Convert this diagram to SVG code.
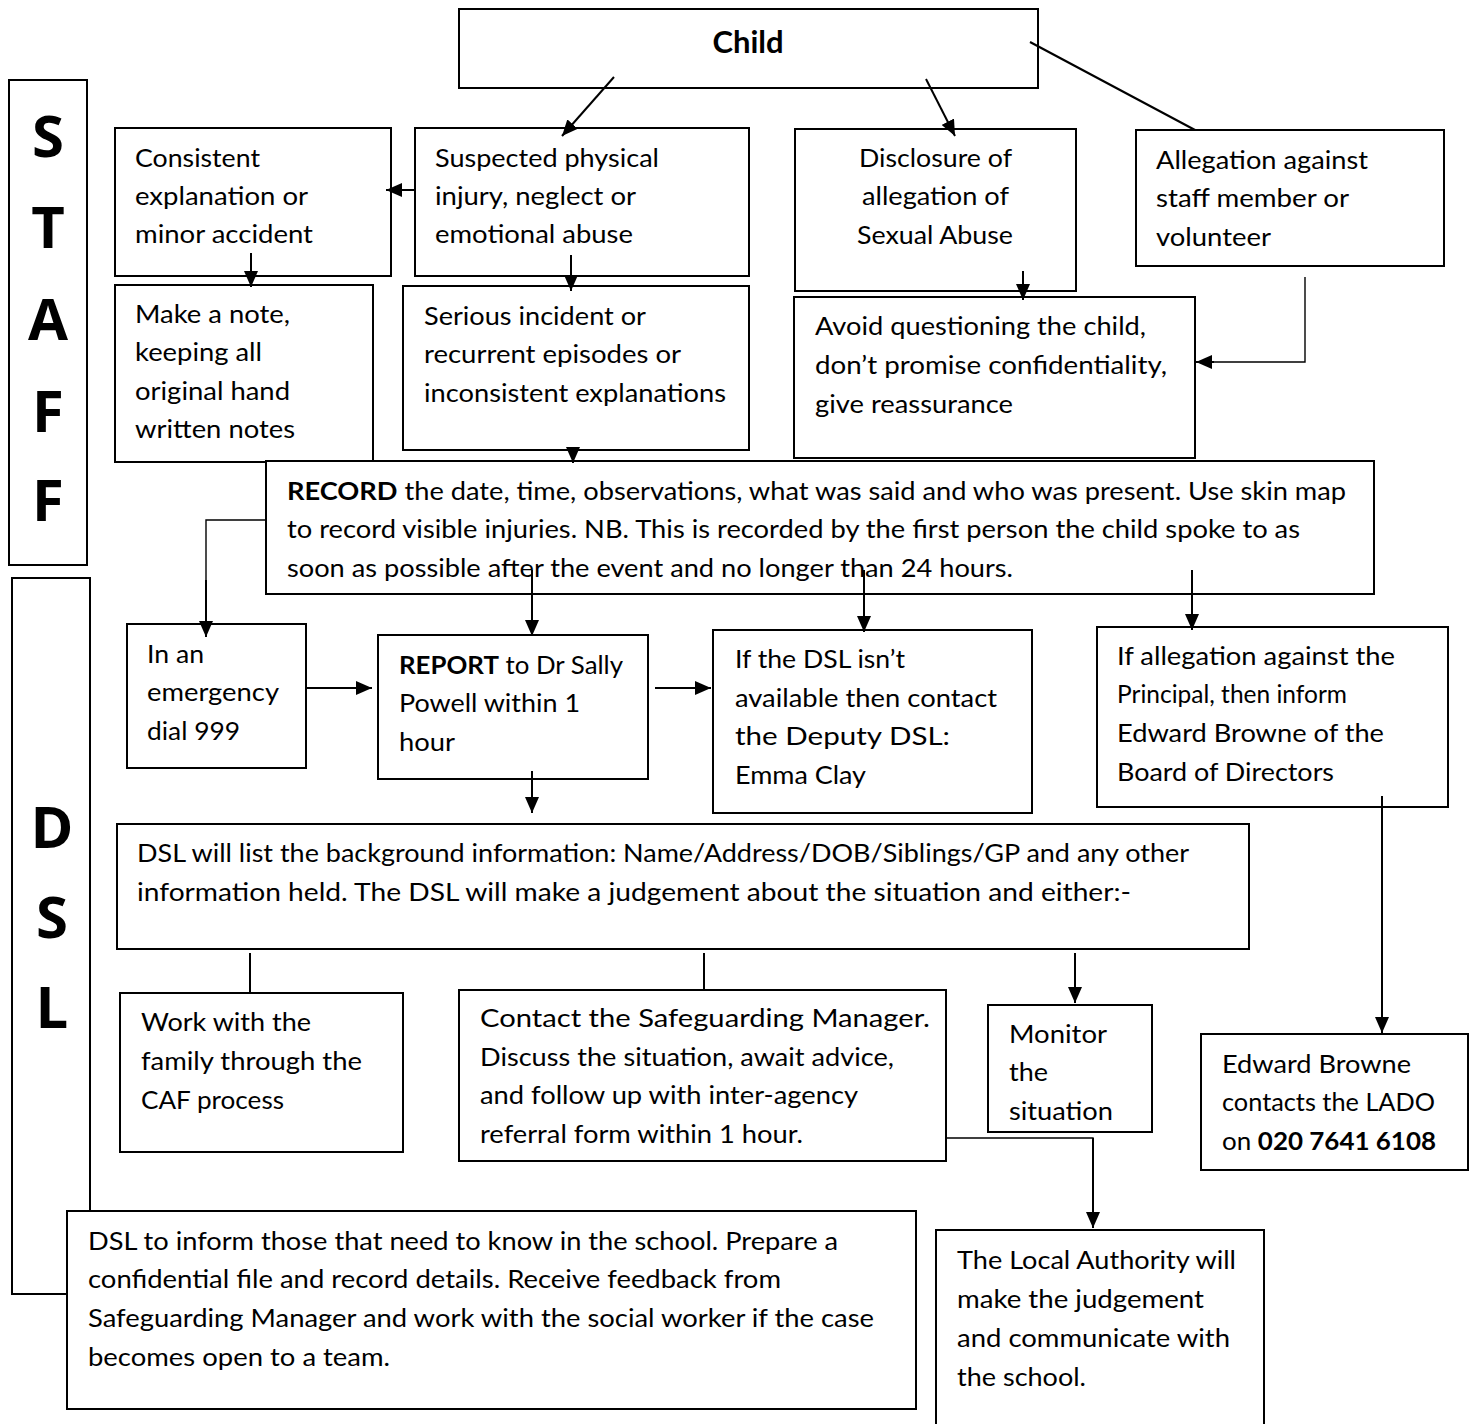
<svg xmlns="http://www.w3.org/2000/svg" width="1477" height="1424" viewBox="0 0 1477 1424">
<style>
.box{fill:#fff;stroke:#000;stroke-width:2}
.t{font-family:Lato,"Open Sans","Liberation Sans",sans-serif;font-size:25px;fill:#000}
.b{font-weight:bold}
.big{font-family:"Open Sans","Liberation Sans",sans-serif;font-weight:bold;font-size:58px;text-anchor:middle}
.c{fill:none;stroke:#000;stroke-width:2}
.thin{fill:none;stroke:#000;stroke-width:1.4}
</style>
<defs>
<marker id="ah" markerUnits="userSpaceOnUse" markerWidth="16" markerHeight="14" refX="16" refY="7" orient="auto">
<path d="M0,0 L16,7 L0,14 z" fill="#000"/>
</marker>
</defs>
<rect width="1477" height="1424" fill="#fff"/>

<g id="staff">
<rect class="box" x="9" y="80" width="78" height="485"/>
<text class="big" x="48" y="157">S</text>
<text class="big" x="48" y="248">T</text>
<text class="big" x="48" y="340">A</text>
<text class="big" x="48" y="432">F</text>
<text class="big" x="48" y="521">F</text>
</g>
<g id="dsl">
<rect class="box" x="12" y="578" width="78" height="716"/>
<text class="big" x="52" y="848">D</text>
<text class="big" x="52" y="938">S</text>
<text class="big" x="52" y="1028">L</text>
</g>

<g id="child">
<rect class="box" x="459" y="9" width="579" height="79"/>
<text class="t b" x="748" y="53" text-anchor="middle" style="font-size:31px">Child</text>
</g>
<g id="consistent">
<rect class="box" x="115" y="128" width="276" height="148"/>
<text class="t" x="135" y="167" textLength="125" lengthAdjust="spacingAndGlyphs">Consistent</text>
<text class="t" x="135" y="205" textLength="173" lengthAdjust="spacingAndGlyphs">explanation or</text>
<text class="t" x="135" y="243" textLength="178" lengthAdjust="spacingAndGlyphs">minor accident</text>
</g>
<g id="suspected">
<rect class="box" x="415" y="128" width="334" height="148"/>
<text class="t" x="435" y="167" textLength="224" lengthAdjust="spacingAndGlyphs">Suspected physical</text>
<text class="t" x="435" y="205" textLength="201" lengthAdjust="spacingAndGlyphs">injury, neglect or</text>
<text class="t" x="435" y="243" textLength="198" lengthAdjust="spacingAndGlyphs">emotional abuse</text>
</g>
<g id="disclosure">
<rect class="box" x="795" y="129" width="281" height="162"/>
<text class="t" x="859" y="167" textLength="153" lengthAdjust="spacingAndGlyphs">Disclosure of</text>
<text class="t" x="862" y="205" textLength="147" lengthAdjust="spacingAndGlyphs">allegation of</text>
<text class="t" x="857" y="244" textLength="156" lengthAdjust="spacingAndGlyphs">Sexual Abuse</text>
</g>
<g id="allegation">
<rect class="box" x="1136" y="130" width="308" height="136"/>
<text class="t" x="1156" y="169" textLength="212" lengthAdjust="spacingAndGlyphs">Allegation against</text>
<text class="t" x="1156" y="207" textLength="193" lengthAdjust="spacingAndGlyphs">staff member or</text>
<text class="t" x="1156" y="246" textLength="115" lengthAdjust="spacingAndGlyphs">volunteer</text>
</g>
<g id="note">
<rect class="box" x="115" y="285" width="258" height="177"/>
<text class="t" x="135" y="323" textLength="155" lengthAdjust="spacingAndGlyphs">Make a note,</text>
<text class="t" x="135" y="361" textLength="127" lengthAdjust="spacingAndGlyphs">keeping all</text>
<text class="t" x="135" y="400" textLength="155" lengthAdjust="spacingAndGlyphs">original hand</text>
<text class="t" x="135" y="438" textLength="160" lengthAdjust="spacingAndGlyphs">written notes</text>
</g>
<g id="serious">
<rect class="box" x="403" y="286" width="346" height="164"/>
<text class="t" x="424" y="325" textLength="222" lengthAdjust="spacingAndGlyphs">Serious incident or</text>
<text class="t" x="424" y="363" textLength="257" lengthAdjust="spacingAndGlyphs">recurrent episodes or</text>
<text class="t" x="424" y="402" textLength="302" lengthAdjust="spacingAndGlyphs">inconsistent explanations</text>
</g>
<g id="avoid">
<rect class="box" x="794" y="297" width="401" height="161"/>
<text class="t" x="815" y="335" textLength="331" lengthAdjust="spacingAndGlyphs">Avoid questioning the child,</text>
<text class="t" x="815" y="374" textLength="352" lengthAdjust="spacingAndGlyphs">don’t promise confidentiality,</text>
<text class="t" x="815" y="413" textLength="198" lengthAdjust="spacingAndGlyphs">give reassurance</text>
</g>
<g id="record">
<rect class="box" x="266" y="461" width="1108" height="133"/>
<text class="t" x="287" y="500" textLength="1059" lengthAdjust="spacingAndGlyphs"><tspan class="b">RECORD</tspan> the date, time, observations, what was said and who was present. Use skin map</text>
<text class="t" x="287" y="538" textLength="1013" lengthAdjust="spacingAndGlyphs">to record visible injuries. NB. This is recorded by the first person the child spoke to as</text>
<text class="t" x="287" y="577" textLength="726" lengthAdjust="spacingAndGlyphs">soon as possible after the event and no longer than 24 hours.</text>
</g>
<g id="emergency">
<rect class="box" x="127" y="624" width="179" height="144"/>
<text class="t" x="147" y="663" textLength="57" lengthAdjust="spacingAndGlyphs">In an</text>
<text class="t" x="147" y="701" textLength="132" lengthAdjust="spacingAndGlyphs">emergency</text>
<text class="t" x="147" y="740" textLength="93" lengthAdjust="spacingAndGlyphs">dial 999</text>
</g>
<g id="report">
<rect class="box" x="378" y="635" width="270" height="144"/>
<text class="t" x="399" y="674" textLength="224" lengthAdjust="spacingAndGlyphs"><tspan class="b">REPORT</tspan> to Dr Sally</text>
<text class="t" x="399" y="712" textLength="181" lengthAdjust="spacingAndGlyphs">Powell within 1</text>
<text class="t" x="399" y="751" textLength="56" lengthAdjust="spacingAndGlyphs">hour</text>
</g>
<g id="deputy">
<rect class="box" x="713" y="630" width="319" height="183"/>
<text class="t" x="735" y="668" textLength="170" lengthAdjust="spacingAndGlyphs">If the DSL isn’t</text>
<text class="t" x="735" y="707" textLength="262" lengthAdjust="spacingAndGlyphs">available then contact</text>
<text class="t" x="735" y="745" textLength="215" lengthAdjust="spacingAndGlyphs">the Deputy DSL:</text>
<text class="t" x="735" y="784" textLength="131" lengthAdjust="spacingAndGlyphs">Emma Clay</text>
</g>
<g id="principal">
<rect class="box" x="1097" y="627" width="351" height="180"/>
<text class="t" x="1117" y="665" textLength="278" lengthAdjust="spacingAndGlyphs">If allegation against the</text>
<text class="t" x="1117" y="703" textLength="230" lengthAdjust="spacingAndGlyphs">Principal, then inform</text>
<text class="t" x="1117" y="742" textLength="267" lengthAdjust="spacingAndGlyphs">Edward Browne of the</text>
<text class="t" x="1117" y="781" textLength="217" lengthAdjust="spacingAndGlyphs">Board of Directors</text>
</g>
<g id="list">
<rect class="box" x="117" y="824" width="1132" height="125"/>
<text class="t" x="137" y="862" textLength="1052" lengthAdjust="spacingAndGlyphs">DSL will list the background information: Name/Address/DOB/Siblings/GP and any other</text>
<text class="t" x="137" y="901" textLength="994" lengthAdjust="spacingAndGlyphs">information held. The DSL will make a judgement about the situation and either:-</text>
</g>
<g id="caf">
<rect class="box" x="120" y="993" width="283" height="159"/>
<text class="t" x="141" y="1031" textLength="170" lengthAdjust="spacingAndGlyphs">Work with the</text>
<text class="t" x="141" y="1070" textLength="221" lengthAdjust="spacingAndGlyphs">family through the</text>
<text class="t" x="141" y="1109" textLength="143" lengthAdjust="spacingAndGlyphs">CAF process</text>
</g>
<g id="contact">
<rect class="box" x="459" y="990" width="487" height="171"/>
<text class="t" x="480" y="1027" textLength="450" lengthAdjust="spacingAndGlyphs">Contact the Safeguarding Manager.</text>
<text class="t" x="480" y="1066" textLength="414" lengthAdjust="spacingAndGlyphs">Discuss the situation, await advice,</text>
<text class="t" x="480" y="1104" textLength="378" lengthAdjust="spacingAndGlyphs">and follow up with inter-agency</text>
<text class="t" x="480" y="1143" textLength="323" lengthAdjust="spacingAndGlyphs">referral form within 1 hour.</text>
</g>
<g id="monitor">
<rect class="box" x="988" y="1005" width="164" height="127"/>
<text class="t" x="1009" y="1043" textLength="98" lengthAdjust="spacingAndGlyphs">Monitor</text>
<text class="t" x="1009" y="1081" textLength="39" lengthAdjust="spacingAndGlyphs">the</text>
<text class="t" x="1009" y="1120" textLength="104" lengthAdjust="spacingAndGlyphs">situation</text>
</g>
<g id="lado">
<rect class="box" x="1201" y="1034" width="267" height="136"/>
<text class="t" x="1222" y="1073" textLength="189" lengthAdjust="spacingAndGlyphs">Edward Browne</text>
<text class="t" x="1222" y="1111" textLength="213" lengthAdjust="spacingAndGlyphs">contacts the LADO</text>
<text class="t" x="1222" y="1150" textLength="214" lengthAdjust="spacingAndGlyphs">on <tspan class="b">020 7641 6108</tspan></text>
</g>
<g id="inform">
<rect class="box" x="67" y="1211" width="849" height="198"/>
<text class="t" x="88" y="1250" textLength="750" lengthAdjust="spacingAndGlyphs">DSL to inform those that need to know in the school. Prepare a</text>
<text class="t" x="88" y="1288" textLength="693" lengthAdjust="spacingAndGlyphs">confidential file and record details. Receive feedback from</text>
<text class="t" x="88" y="1327" textLength="786" lengthAdjust="spacingAndGlyphs">Safeguarding Manager and work with the social worker if the case</text>
<text class="t" x="88" y="1366" textLength="302" lengthAdjust="spacingAndGlyphs">becomes open to a team.</text>
</g>
<g id="authority">
<rect class="box" x="936" y="1230" width="328" height="200"/>
<text class="t" x="957" y="1269" textLength="279" lengthAdjust="spacingAndGlyphs">The Local Authority will</text>
<text class="t" x="957" y="1308" textLength="247" lengthAdjust="spacingAndGlyphs">make the judgement</text>
<text class="t" x="957" y="1347" textLength="273" lengthAdjust="spacingAndGlyphs">and communicate with</text>
<text class="t" x="957" y="1386" textLength="129" lengthAdjust="spacingAndGlyphs">the school.</text>
</g>

<g id="connectors">
<line class="c" x1="614" y1="77" x2="562" y2="136" marker-end="url(#ah)"/>
<line class="c" x1="926" y1="79" x2="955" y2="136" marker-end="url(#ah)"/>
<line class="c" x1="1030" y1="42" x2="1195" y2="130"/>
<line class="c" x1="415" y1="190" x2="386" y2="190" marker-end="url(#ah)"/>
<line class="c" x1="251" y1="253" x2="251" y2="287" marker-end="url(#ah)"/>
<line class="c" x1="571" y1="255" x2="571" y2="291" marker-end="url(#ah)"/>
<line class="c" x1="1023" y1="271" x2="1023" y2="300" marker-end="url(#ah)"/>
<polyline class="thin" points="1305,277 1305,362 1210,362"/>
<line class="c" x1="1214" y1="362" x2="1196" y2="362" marker-end="url(#ah)"/>
<line class="c" x1="573" y1="450" x2="573" y2="463" marker-end="url(#ah)"/>
<polyline class="thin" points="266,520 206,520 206,600"/>
<line class="c" x1="206" y1="580" x2="206" y2="637" marker-end="url(#ah)"/>
<line class="c" x1="532" y1="570" x2="532" y2="636" marker-end="url(#ah)"/>
<line class="c" x1="864" y1="570" x2="864" y2="632" marker-end="url(#ah)"/>
<line class="c" x1="1192" y1="570" x2="1192" y2="630" marker-end="url(#ah)"/>
<line class="c" x1="306" y1="688" x2="372" y2="688" marker-end="url(#ah)"/>
<line class="c" x1="655" y1="688" x2="711" y2="688" marker-end="url(#ah)"/>
<line class="c" x1="532" y1="771" x2="532" y2="813" marker-end="url(#ah)"/>
<line class="c" x1="1382" y1="796" x2="1382" y2="1033" marker-end="url(#ah)"/>
<line class="c" x1="250" y1="953" x2="250" y2="994"/>
<line class="c" x1="704" y1="953" x2="704" y2="990"/>
<line class="c" x1="1075" y1="953" x2="1075" y2="1003" marker-end="url(#ah)"/>
<polyline class="thin" points="946,1138 1093,1138 1093,1150"/>
<line class="c" x1="1093" y1="1138" x2="1093" y2="1228" marker-end="url(#ah)"/>
</g>
</svg>
